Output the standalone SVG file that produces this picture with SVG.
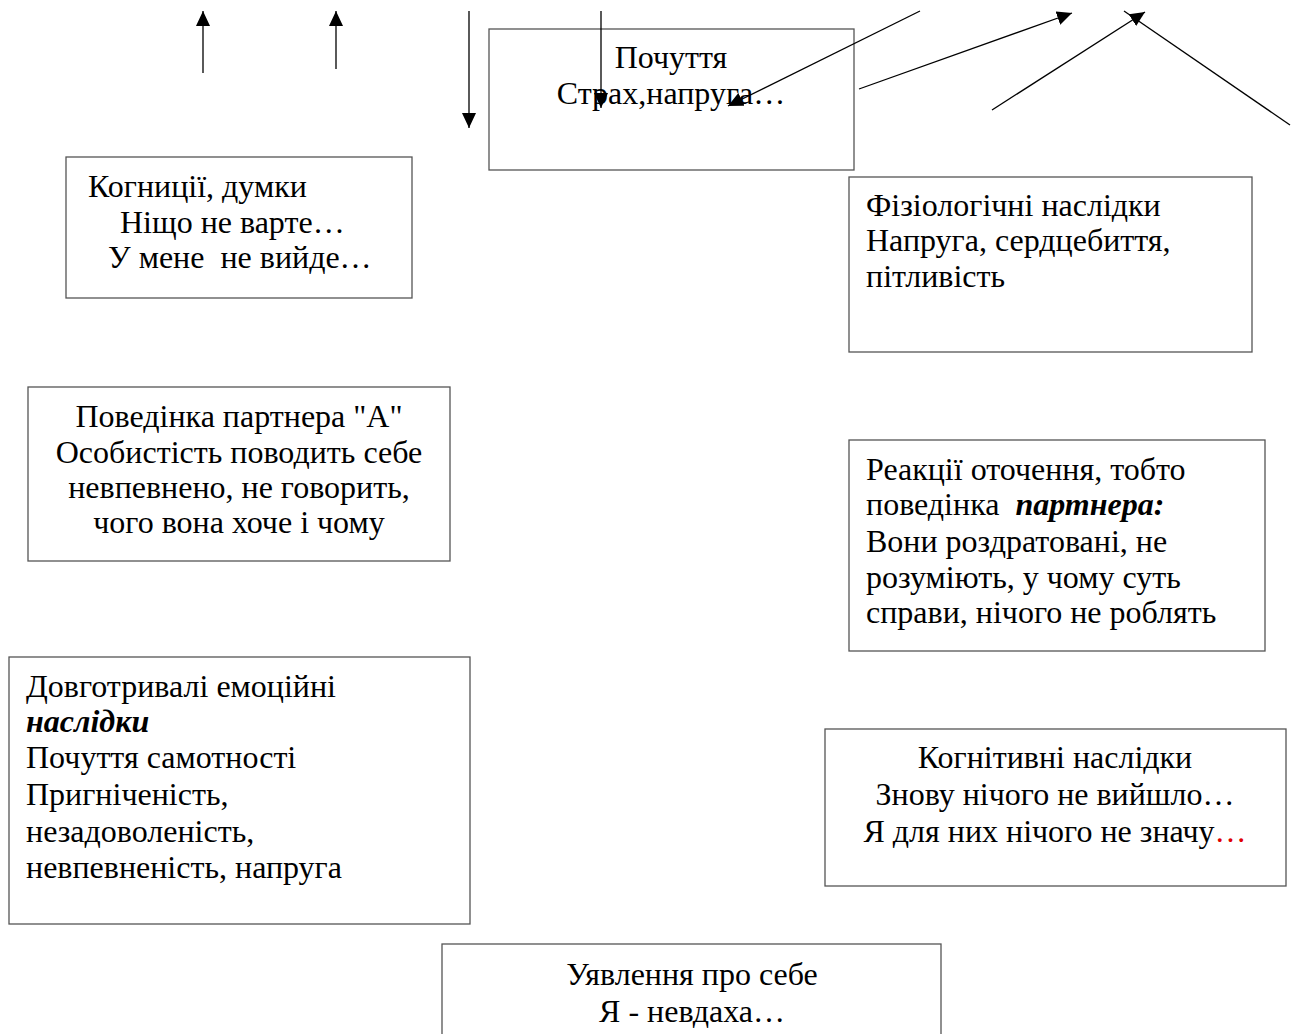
<svg xmlns="http://www.w3.org/2000/svg" width="1297" height="1034" viewBox="0 0 1297 1034">
<style>
.box{fill:#fff;stroke:#555;stroke-width:1.3}
.t{font-family:"Liberation Serif","Times New Roman",serif;font-size:32px;fill:#000}
.c{text-anchor:middle}
.bi{font-weight:bold;font-style:italic}
.ln{stroke:#000;stroke-width:1.3;fill:none}
</style>
<defs>
<marker id="ah" markerWidth="16" markerHeight="14" refX="15" refY="7" orient="auto" markerUnits="userSpaceOnUse">
<path d="M0,0 L15,7 L0,14 Z" fill="#000"/>
</marker>
</defs>
<rect width="1297" height="1034" fill="#fff"/>
<g id="n-feelings">
<rect class="box" x="489" y="29" width="365" height="141"/>
<text class="t c" x="671" y="68">Почуття</text>
<text class="t c" x="671" y="104">Страх,напруга…</text>
</g>
<g id="n-cognitions">
<rect class="box" x="66" y="157" width="346" height="141"/>
<text class="t" x="88" y="197">Когниції, думки</text>
<text class="t" x="120" y="233">Ніщо не варте…</text>
<text class="t" x="108" y="268" xml:space="preserve">У мене  не вийде…</text>
</g>
<g id="n-physio">
<rect class="box" x="849" y="177" width="403" height="175"/>
<text class="t" x="866" y="216">Фізіологічні наслідки</text>
<text class="t" x="866" y="251">Напруга, сердцебиття,</text>
<text class="t" x="866" y="287">пітливість</text>
</g>
<g id="n-behaviour">
<rect class="box" x="28" y="387" width="422" height="174"/>
<text class="t c" x="239" y="427">Поведінка партнера "А"</text>
<text class="t c" x="239" y="463">Особистість поводить себе</text>
<text class="t c" x="239" y="498">невпевнено, не говорить,</text>
<text class="t c" x="239" y="533">чого вона хоче і чому</text>
</g>
<g id="n-reactions">
<rect class="box" x="849" y="440" width="416" height="211"/>
<text class="t" x="866" y="480">Реакції оточення, тобто</text>
<text class="t" x="866" y="515" xml:space="preserve">поведінка  <tspan class="bi">партнера:</tspan></text>
<text class="t" x="866" y="552">Вони роздратовані, не</text>
<text class="t" x="866" y="588">розуміють, у чому суть</text>
<text class="t" x="866" y="623">справи, нічого не роблять</text>
</g>
<g id="n-longterm">
<rect class="box" x="9" y="657" width="461" height="267"/>
<text class="t" x="26" y="697">Довготривалі емоційні</text>
<text class="t bi" x="26" y="732">наслідки</text>
<text class="t" x="26" y="768">Почуття самотності</text>
<text class="t" x="26" y="805">Пригніченість,</text>
<text class="t" x="26" y="842">незадоволеність,</text>
<text class="t" x="26" y="878">невпевненість, напруга</text>
</g>
<g id="n-cogcons">
<rect class="box" x="825" y="729" width="461" height="157"/>
<text class="t c" x="1055" y="768">Когнітивні наслідки</text>
<text class="t c" x="1055" y="805">Знову нічого не вийшло…</text>
<text class="t c" x="1055" y="842">Я для них нічого не значу<tspan fill="#e00000">…</tspan></text>
</g>
<g id="n-self">
<rect class="box" x="442" y="944" width="499" height="100"/>
<text class="t c" x="692" y="985">Уявлення про себе</text>
<text class="t c" x="692" y="1022">Я - невдаха…</text>
</g>
<g id="connectors">
<line class="ln" x1="203" y1="73" x2="203" y2="11" marker-end="url(#ah)"/>
<line class="ln" x1="336" y1="69" x2="336" y2="11" marker-end="url(#ah)"/>
<line class="ln" x1="469" y1="11" x2="469" y2="128" marker-end="url(#ah)"/>
<line class="ln" x1="601" y1="11" x2="601" y2="108" marker-end="url(#ah)"/>
<line class="ln" x1="920" y1="11" x2="728" y2="106" marker-end="url(#ah)"/>
<line class="ln" x1="859" y1="89" x2="1072" y2="13" marker-end="url(#ah)"/>
<line class="ln" x1="992" y1="110" x2="1145" y2="12" marker-end="url(#ah)"/>
<line class="ln" x1="1290" y1="125" x2="1124" y2="11"/>
</g>
</svg>
